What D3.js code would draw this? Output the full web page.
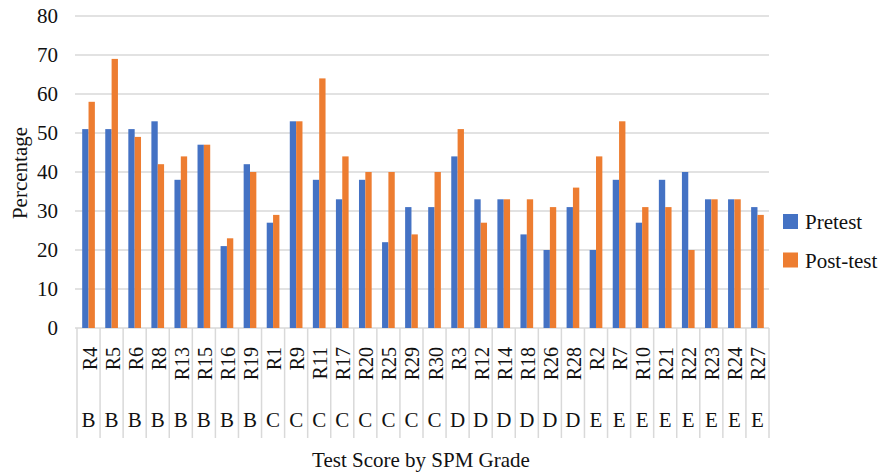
<!DOCTYPE html>
<html>
<head>
<meta charset="utf-8">
<script src="https://cdn.jsdelivr.net/npm/d3@7"></script>
<style>
  body { margin: 0; background: #fff; }
  svg text { font-family: "Liberation Serif", "Times New Roman", serif; fill: #111; }
</style>
</head>
<body>
<main></main>
<script>
const respondents = ['R4','R5','R6','R8','R13','R15','R16','R19','R1','R9','R11','R17','R20','R25','R29','R30',
                     'R3','R12','R14','R18','R26','R28','R2','R7','R10','R21','R22','R23','R24','R27'];
const grades = ['B','B','B','B','B','B','B','B','C','C','C','C','C','C','C','C',
                'D','D','D','D','D','D','E','E','E','E','E','E','E','E'];
const pretest  = [51,51,51,53,38,47,21,42,27,53,38,33,38,22,31,31,44,33,33,24,20,31,20,38,27,38,40,33,33,31];
const posttest = [58,69,49,42,44,47,23,40,29,53,64,44,40,40,24,40,51,27,33,33,31,36,44,53,31,31,20,33,33,29];
const yTicks = [0,10,20,30,40,50,60,70,80];
const seriesNames = ['Pretest','Post-test'];
const colors = ['#4472C4','#ED7D31'];

const size = {width: 888, height: 474};
const plot = {left: 77, right: 769, top: 16, bottom: 328};
const fontSize = '21px';

const svg = d3.select('main').append('svg')
    .attr('width', size.width)
    .attr('height', size.height)
    .attr('font-family', '"Liberation Serif", serif');

const x = d3.scaleBand()
    .domain(respondents)
    .range([plot.left, plot.right])
    .paddingInner(0.45)
    .paddingOuter(0.225);

const y = d3.scaleLinear().domain([0, 80]).range([plot.bottom, plot.top]);

// gridlines
svg.append('g')
    .selectAll('line')
    .data(yTicks)
    .join('line')
    .attr('x1', plot.left - 2)
    .attr('x2', plot.right)
    .attr('y1', d => y(d))
    .attr('y2', d => y(d))
    .attr('stroke', '#d9d9d9')
    .attr('stroke-width', 1.5);

// y tick labels
svg.append('g')
    .selectAll('text')
    .data(yTicks)
    .join('text')
    .attr('x', 58)
    .attr('y', d => y(d) + 7)
    .attr('text-anchor', 'end')
    .style('font-size', fontSize)
    .text(d => d);

// bars
const step = x.step();
const bw = x.bandwidth() / 2;
const groups = svg.append('g')
    .selectAll('g')
    .data(respondents)
    .join('g')
    .attr('transform', d => `translate(${x(d)},0)`);

groups.append('rect')
    .attr('x', 0)
    .attr('width', bw)
    .attr('y', (d, i) => y(pretest[i]))
    .attr('height', (d, i) => y(0) - y(pretest[i]))
    .attr('fill', colors[0]);

groups.append('rect')
    .attr('x', bw)
    .attr('width', bw)
    .attr('y', (d, i) => y(posttest[i]))
    .attr('height', (d, i) => y(0) - y(posttest[i]))
    .attr('fill', colors[1]);

// category separators below axis
const boundaries = d3.range(respondents.length + 1).map(i => plot.left + i * step);
svg.append('g')
    .selectAll('line')
    .data(boundaries)
    .join('line')
    .attr('x1', d => d).attr('x2', d => d)
    .attr('y1', plot.bottom).attr('y2', 438)
    .attr('stroke', '#d9d9d9')
    .attr('stroke-width', 1.5);

// category labels (rotated)
svg.append('g')
    .selectAll('text')
    .data(respondents)
    .join('text')
    .attr('transform', d => `translate(${x(d) + x.bandwidth() / 2 + 8},347) rotate(-90)`)
    .attr('text-anchor', 'end')
    .style('font-size', '20px')
    .text(d => d);

// grade labels
svg.append('g')
    .selectAll('text')
    .data(respondents)
    .join('text')
    .attr('x', d => x(d) + x.bandwidth() / 2)
    .attr('y', 427)
    .attr('text-anchor', 'middle')
    .style('font-size', fontSize)
    .text((d, i) => grades[i]);

// axis titles
svg.append('text')
    .attr('x', 421)
    .attr('y', 467)
    .attr('text-anchor', 'middle')
    .style('font-size', fontSize)
    .text('Test Score by SPM Grade');

svg.append('text')
    .attr('transform', 'translate(27,173) rotate(-90)')
    .attr('text-anchor', 'middle')
    .style('font-size', fontSize)
    .text('Percentage');

// legend
const legend = svg.append('g')
    .selectAll('g')
    .data(seriesNames)
    .join('g')
    .attr('transform', (d, i) => `translate(783,${214 + i * 38.5})`);

legend.append('rect')
    .attr('width', 15)
    .attr('height', 15)
    .attr('fill', (d, i) => colors[i]);

legend.append('text')
    .attr('x', 22)
    .attr('y', 15)
    .style('font-size', fontSize)
    .text(d => d);
</script>
</body>
</html>
